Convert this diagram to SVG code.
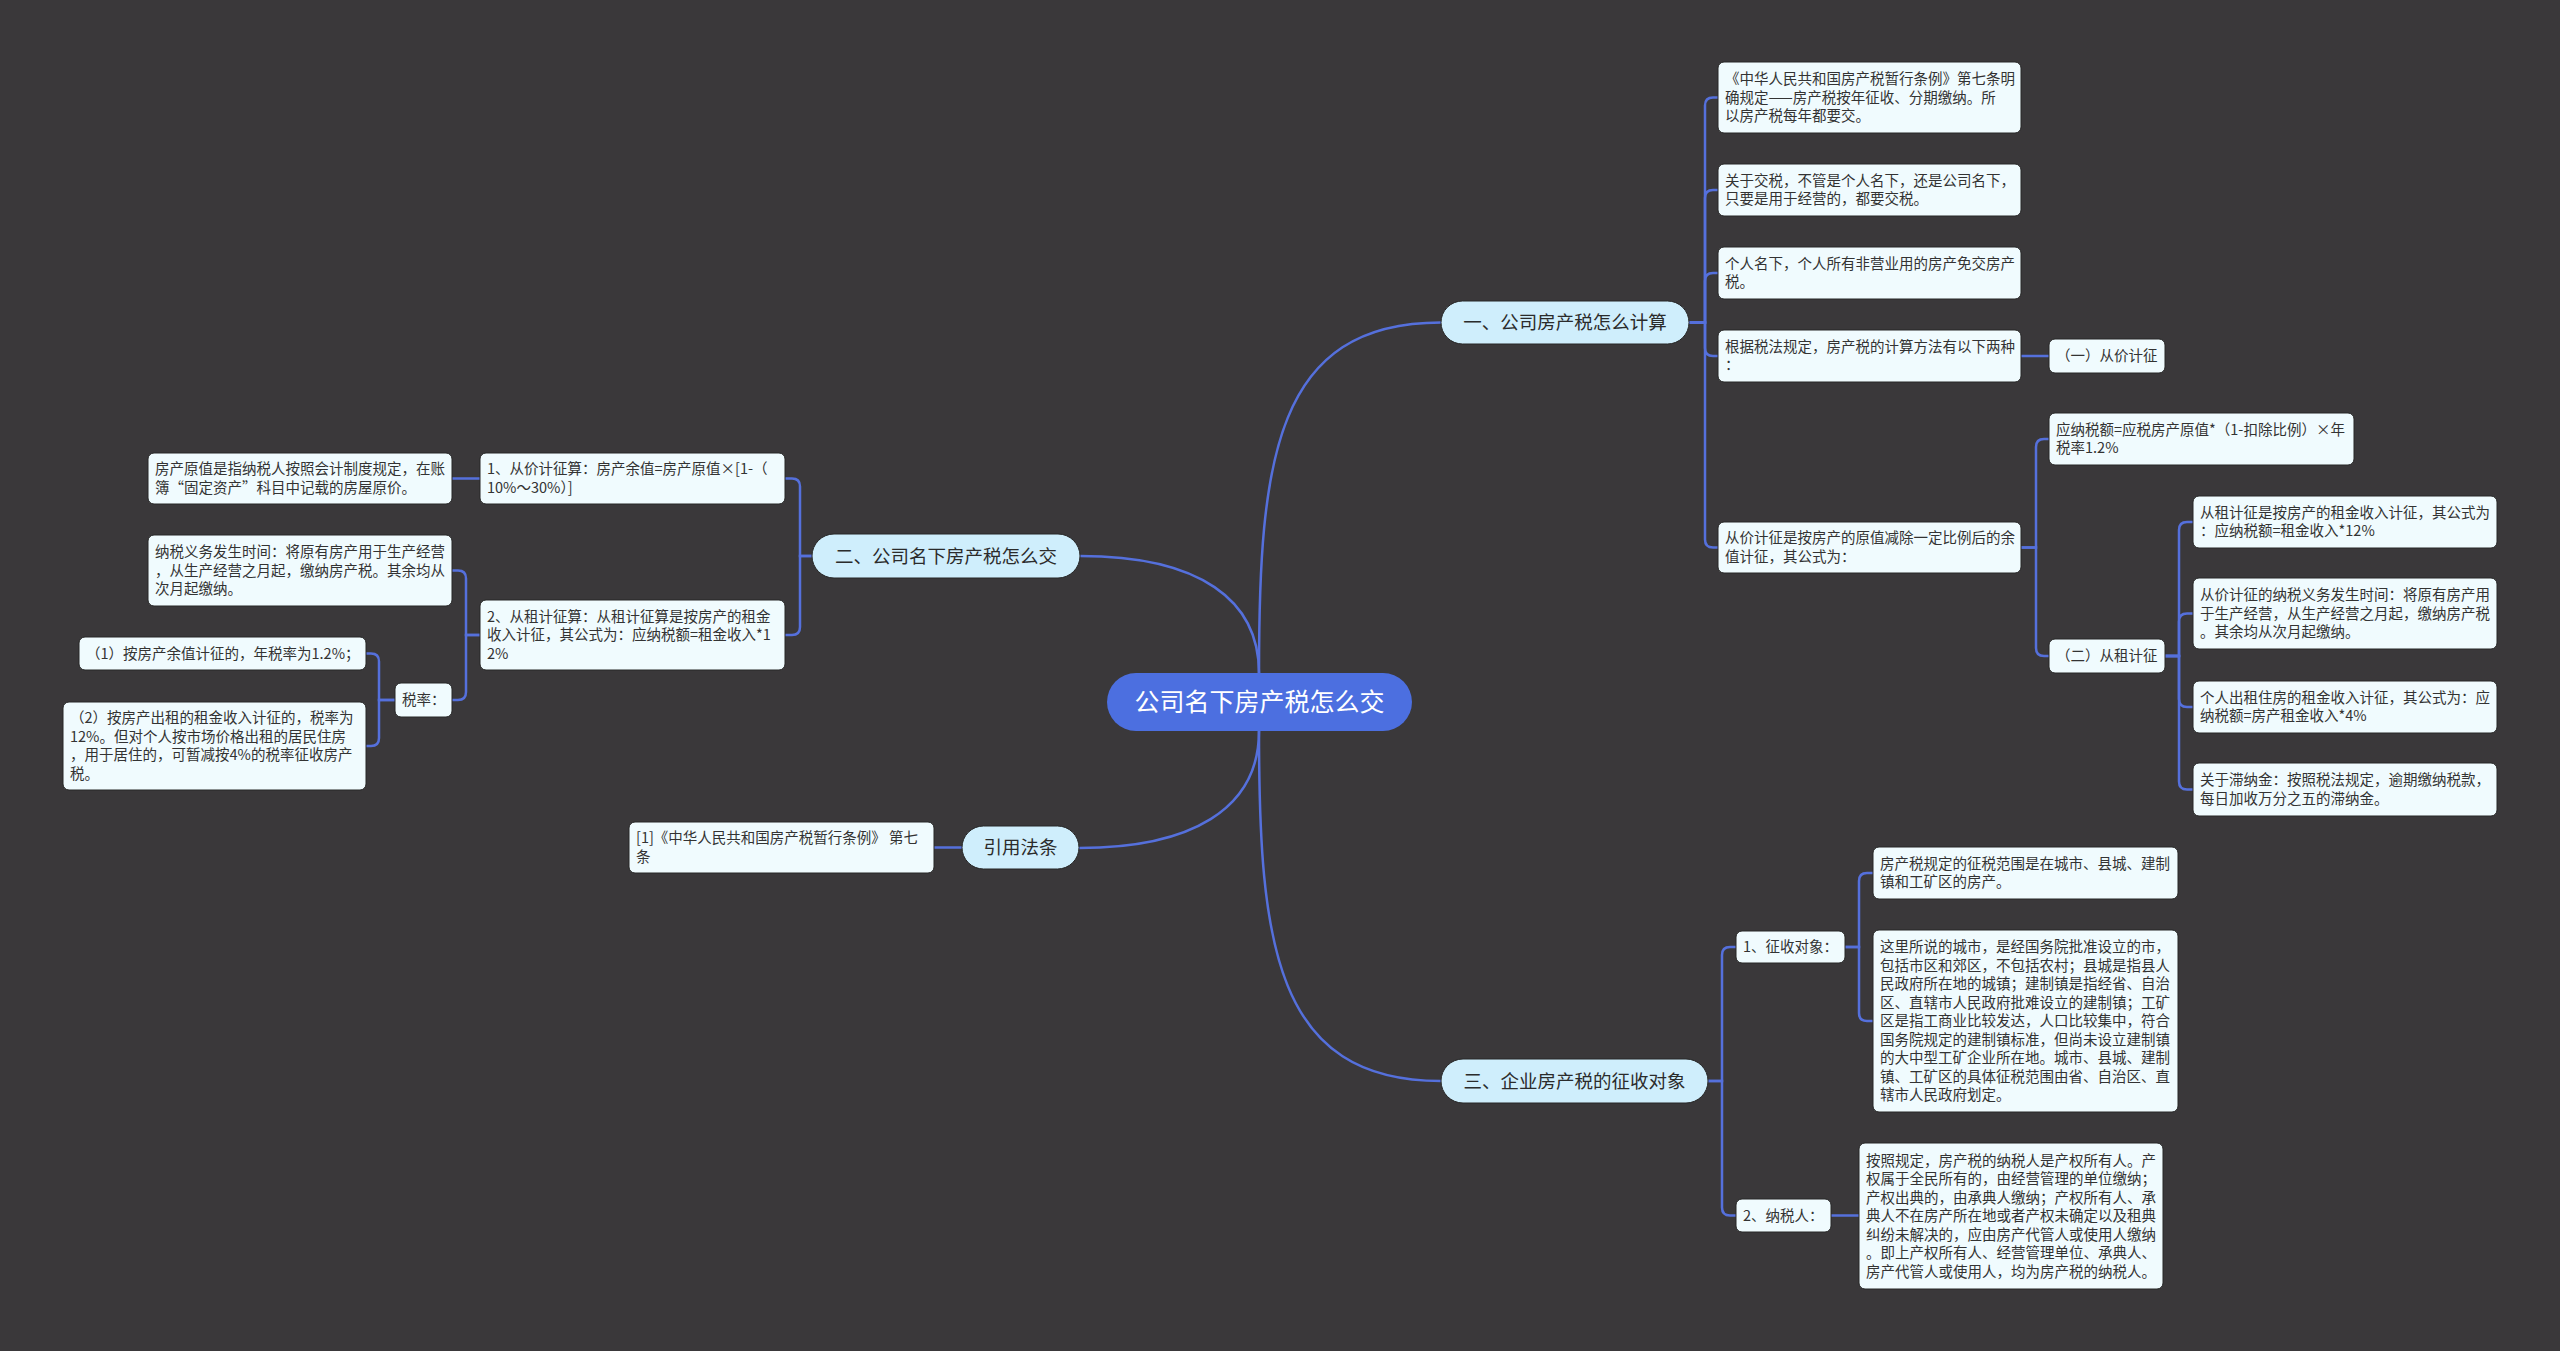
<svg xmlns="http://www.w3.org/2000/svg" width="2560" height="1351" viewBox="0 0 2560 1351">
<style>
.bg{fill:#3a383a}
.c{fill:none;stroke:#5570dc;stroke-width:2.5;stroke-linecap:round}
.leaf rect{fill:#f0fbfe;stroke:#262626;stroke-width:1}
.leaf text{font-family:"Noto Sans CJK SC","Noto Sans",sans-serif;font-size:14.5px;fill:#333}
.br rect{fill:#cfeefc;stroke:#262626;stroke-width:1}
.br text{font-family:"Noto Sans CJK SC","Noto Sans",sans-serif;font-size:18.5px;fill:#2b2b2b;text-anchor:middle}
.root rect{fill:#4c6fe0}
.root text{font-family:"Noto Sans CJK SC","Noto Sans",sans-serif;font-size:25px;fill:#fff;text-anchor:middle}
</style>
<rect class="bg" x="0" y="0" width="2560" height="1351"/>
<g id="connectors">
<path class="c" d="M1259,673 C1259,460 1275,322.5 1441,322.5"/>
<path class="c" d="M1259,673 C1259,600 1200,556 1080,556"/>
<path class="c" d="M1259,731 C1259,810 1190,848 1079,848"/>
<path class="c" d="M1259,731 C1259,944 1275,1081 1441,1081"/>
<path class="c" d="M1689,322.5 H1705 V105.5 Q1705,97.5 1713,97.5 H1718"/>
<path class="c" d="M1689,322.5 H1705 V198 Q1705,190 1713,190 H1718"/>
<path class="c" d="M1689,322.5 H1705 V281 Q1705,273 1713,273 H1718"/>
<path class="c" d="M1689,322.5 H1705 V348 Q1705,356 1713,356 H1718"/>
<path class="c" d="M1689,322.5 H1705 V539.5 Q1705,547.5 1713,547.5 H1718"/>
<path class="c" d="M2021,356 H2049"/>
<path class="c" d="M2021,547.5 H2036 V447 Q2036,439 2044,439 H2049"/>
<path class="c" d="M2021,547.5 H2036 V648 Q2036,656 2044,656 H2049"/>
<path class="c" d="M2165,656 H2179 V530 Q2179,522 2187,522 H2193"/>
<path class="c" d="M2165,656 H2179 V621.5 Q2179,613.5 2187,613.5 H2193"/>
<path class="c" d="M2165,656 H2179 V699 Q2179,707 2187,707 H2193"/>
<path class="c" d="M2165,656 H2179 V781.5 Q2179,789.5 2187,789.5 H2193"/>
<path class="c" d="M1708,1081 H1722 V955 Q1722,947 1730,947 H1736"/>
<path class="c" d="M1708,1081 H1722 V1207.5 Q1722,1215.5 1730,1215.5 H1736"/>
<path class="c" d="M1845,947 H1859 V881 Q1859,873 1867,873 H1873"/>
<path class="c" d="M1845,947 H1859 V1013 Q1859,1021 1867,1021 H1873"/>
<path class="c" d="M1831,1215.5 H1859"/>
<path class="c" d="M812,556 H800 V486.5 Q800,478.5 792,478.5 H785"/>
<path class="c" d="M812,556 H800 V627 Q800,635 792,635 H785"/>
<path class="c" d="M480,478.5 H452"/>
<path class="c" d="M480,635 H466 V578.5 Q466,570.5 458,570.5 H452"/>
<path class="c" d="M480,635 H466 V692 Q466,700 458,700 H452"/>
<path class="c" d="M395,700 H379 V661.5 Q379,653.5 371,653.5 H366"/>
<path class="c" d="M395,700 H379 V738 Q379,746 371,746 H366"/>
<path class="c" d="M962,847.5 H934"/>
</g>
<g id="root" class="root"><rect x="1107" y="673" width="305" height="58" rx="29"/><text x="1259.5" y="711">公司名下房产税怎么交</text></g>
<g id="b1" class="br"><rect x="1441" y="301" width="248" height="43" rx="21.5"/><text x="1565" y="329">一、公司房产税怎么计算</text></g>
<g id="b2" class="br"><rect x="812" y="534" width="268" height="44" rx="22"/><text x="946" y="562.5">二、公司名下房产税怎么交</text></g>
<g id="b3" class="br"><rect x="1441" y="1059" width="267" height="44" rx="22"/><text x="1574.5" y="1087.5">三、企业房产税的征收对象</text></g>
<g id="b4" class="br"><rect x="962" y="826" width="117" height="43" rx="21.5"/><text x="1020.5" y="854">引用法条</text></g>
<g id="n-a" class="leaf"><rect x="1718" y="62" width="303" height="71" rx="6"/><text x="1725"><tspan x="1725" y="84">《中华人民共和国房产税暂行条例》第七条明</tspan><tspan x="1725" y="102.5">确规定——房产税按年征收、分期缴纳。所</tspan><tspan x="1725" y="121">以房产税每年都要交。</tspan></text></g>
<g id="n-b" class="leaf"><rect x="1718" y="164" width="303" height="52" rx="6"/><text x="1725"><tspan x="1725" y="185.75">关于交税，不管是个人名下，还是公司名下，</tspan><tspan x="1725" y="204.25">只要是用于经营的，都要交税。</tspan></text></g>
<g id="n-c" class="leaf"><rect x="1718" y="247" width="303" height="52" rx="6"/><text x="1725"><tspan x="1725" y="268.75">个人名下，个人所有非营业用的房产免交房产</tspan><tspan x="1725" y="287.25">税。</tspan></text></g>
<g id="n-d" class="leaf"><rect x="1718" y="330" width="303" height="52" rx="6"/><text x="1725"><tspan x="1725" y="351.75">根据税法规定，房产税的计算方法有以下两种</tspan><tspan x="1725" y="370.25">：</tspan></text></g>
<g id="n-d1" class="leaf"><rect x="2049" y="339" width="116" height="34" rx="6"/><text x="2056" y="361">（一）从价计征</text></g>
<g id="n-e" class="leaf"><rect x="1718" y="522" width="303" height="51" rx="6"/><text x="1725"><tspan x="1725" y="543.25">从价计征是按房产的原值减除一定比例后的余</tspan><tspan x="1725" y="561.75">值计征，其公式为：</tspan></text></g>
<g id="n-f" class="leaf"><rect x="2049" y="413" width="305" height="52" rx="6"/><text x="2056"><tspan x="2056" y="434.75">应纳税额=应税房产原值*（1-扣除比例）×年</tspan><tspan x="2056" y="453.25">税率1.2%</tspan></text></g>
<g id="n-e2" class="leaf"><rect x="2049" y="639" width="116" height="34" rx="6"/><text x="2056" y="661">（二）从租计征</text></g>
<g id="n-g" class="leaf"><rect x="2193" y="496" width="304" height="52" rx="6"/><text x="2200"><tspan x="2200" y="517.75">从租计征是按房产的租金收入计征，其公式为</tspan><tspan x="2200" y="536.25">：应纳税额=租金收入*12%</tspan></text></g>
<g id="n-h" class="leaf"><rect x="2193" y="578" width="304" height="71" rx="6"/><text x="2200"><tspan x="2200" y="600">从价计征的纳税义务发生时间：将原有房产用</tspan><tspan x="2200" y="618.5">于生产经营，从生产经营之月起，缴纳房产税</tspan><tspan x="2200" y="637">。其余均从次月起缴纳。</tspan></text></g>
<g id="n-i" class="leaf"><rect x="2193" y="681" width="304" height="52" rx="6"/><text x="2200"><tspan x="2200" y="702.75">个人出租住房的租金收入计征，其公式为：应</tspan><tspan x="2200" y="721.25">纳税额=房产租金收入*4%</tspan></text></g>
<g id="n-j" class="leaf"><rect x="2193" y="763" width="304" height="53" rx="6"/><text x="2200"><tspan x="2200" y="785.25">关于滞纳金：按照税法规定，逾期缴纳税款，</tspan><tspan x="2200" y="803.75">每日加收万分之五的滞纳金。</tspan></text></g>
<g id="n-obj" class="leaf"><rect x="1736" y="931" width="109" height="32" rx="6"/><text x="1743" y="952">1、征收对象：</text></g>
<g id="n-k" class="leaf"><rect x="1873" y="847" width="305" height="52" rx="6"/><text x="1880"><tspan x="1880" y="868.75">房产税规定的征税范围是在城市、县城、建制</tspan><tspan x="1880" y="887.25">镇和工矿区的房产。</tspan></text></g>
<g id="n-l" class="leaf"><rect x="1873" y="930" width="305" height="182" rx="6"/><text x="1880"><tspan x="1880" y="952">这里所说的城市，是经国务院批准设立的市，</tspan><tspan x="1880" y="970.5">包括市区和郊区，不包括农村；县城是指县人</tspan><tspan x="1880" y="989">民政府所在地的城镇；建制镇是指经省、自治</tspan><tspan x="1880" y="1007.5">区、直辖市人民政府批难设立的建制镇；工矿</tspan><tspan x="1880" y="1026">区是指工商业比较发达，人口比较集中，符合</tspan><tspan x="1880" y="1044.5">国务院规定的建制镇标准，但尚未设立建制镇</tspan><tspan x="1880" y="1063">的大中型工矿企业所在地。城市、县城、建制</tspan><tspan x="1880" y="1081.5">镇、工矿区的具体征税范围由省、自治区、直</tspan><tspan x="1880" y="1100">辖市人民政府划定。</tspan></text></g>
<g id="n-tax" class="leaf"><rect x="1736" y="1199" width="95" height="33" rx="6"/><text x="1743" y="1220.5">2、纳税人：</text></g>
<g id="n-m" class="leaf"><rect x="1859" y="1143" width="304" height="146" rx="6"/><text x="1866"><tspan x="1866" y="1165.5">按照规定，房产税的纳税人是产权所有人。产</tspan><tspan x="1866" y="1184">权属于全民所有的，由经营管理的单位缴纳；</tspan><tspan x="1866" y="1202.5">产权出典的，由承典人缴纳；产权所有人、承</tspan><tspan x="1866" y="1221">典人不在房产所在地或者产权未确定以及租典</tspan><tspan x="1866" y="1239.5">纠纷未解决的，应由房产代管人或使用人缴纳</tspan><tspan x="1866" y="1258">。即上产权所有人、经营管理单位、承典人、</tspan><tspan x="1866" y="1276.5">房产代管人或使用人，均为房产税的纳税人。</tspan></text></g>
<g id="n-p1" class="leaf"><rect x="480" y="453" width="305" height="51" rx="6"/><text x="487"><tspan x="487" y="474.25">1、从价计征算：房产余值=房产原值×[1-（</tspan><tspan x="487" y="492.75">10%～30%）]</tspan></text></g>
<g id="n-p1a" class="leaf"><rect x="148" y="453" width="304" height="51" rx="6"/><text x="155"><tspan x="155" y="474.25">房产原值是指纳税人按照会计制度规定，在账</tspan><tspan x="155" y="492.75">簿“固定资产”科目中记载的房屋原价。</tspan></text></g>
<g id="n-p2" class="leaf"><rect x="480" y="600" width="305" height="70" rx="6"/><text x="487"><tspan x="487" y="621.5">2、从租计征算：从租计征算是按房产的租金</tspan><tspan x="487" y="640">收入计征，其公式为：应纳税额=租金收入*1</tspan><tspan x="487" y="658.5">2%</tspan></text></g>
<g id="n-p2a" class="leaf"><rect x="148" y="535" width="304" height="71" rx="6"/><text x="155"><tspan x="155" y="557">纳税义务发生时间：将原有房产用于生产经营</tspan><tspan x="155" y="575.5">，从生产经营之月起，缴纳房产税。其余均从</tspan><tspan x="155" y="594">次月起缴纳。</tspan></text></g>
<g id="n-rate" class="leaf"><rect x="395" y="683" width="57" height="34" rx="6"/><text x="402" y="705">税率：</text></g>
<g id="n-r1" class="leaf"><rect x="79" y="637" width="287" height="33" rx="6"/><text x="86" y="658.5">（1）按房产余值计征的，年税率为1.2%；</text></g>
<g id="n-r2" class="leaf"><rect x="63" y="702" width="303" height="88" rx="6"/><text x="70"><tspan x="70" y="723.25">（2）按房产出租的租金收入计征的，税率为</tspan><tspan x="70" y="741.75">12%。但对个人按市场价格出租的居民住房</tspan><tspan x="70" y="760.25">，用于居住的，可暂减按4%的税率征收房产</tspan><tspan x="70" y="778.75">税。</tspan></text></g>
<g id="n-ref" class="leaf"><rect x="629" y="822" width="305" height="51" rx="6"/><text x="636"><tspan x="636" y="843.25">[1]《中华人民共和国房产税暂行条例》 第七</tspan><tspan x="636" y="861.75">条</tspan></text></g>
</svg>
